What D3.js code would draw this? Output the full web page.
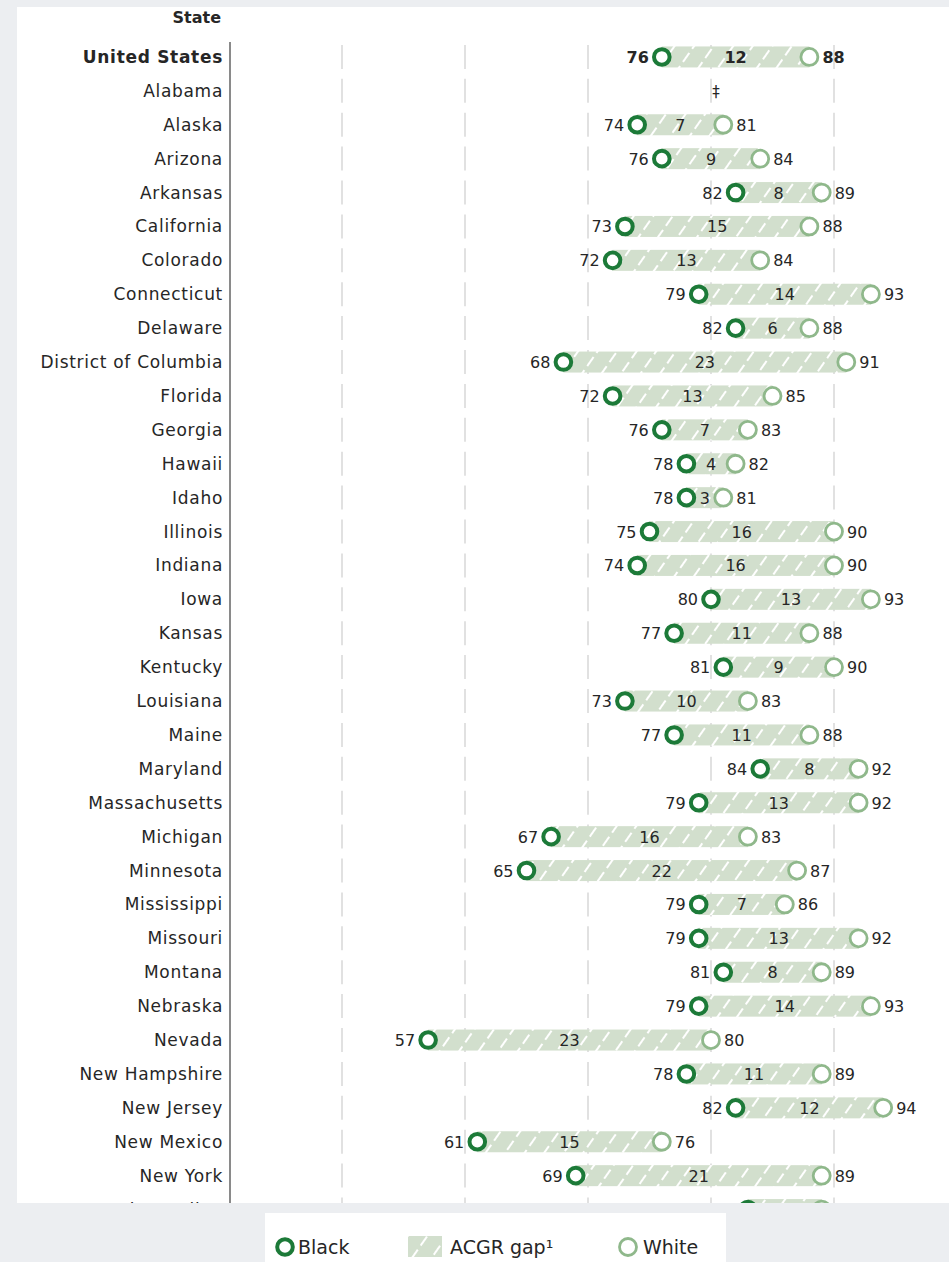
<!DOCTYPE html>
<html>
<head>
<meta charset="utf-8">
<script src="https://cdn.jsdelivr.net/npm/d3@7"></script>
<style>
  body { margin: 0; background: #eceef1; }
  svg { display: block; }
</style>
</head>
<body>
<svg id="chart"></svg>
<script>
// ACGR by race, Black vs White, per state
const states = [
  "United States", "Alabama", "Alaska", "Arizona", "Arkansas", "California",
  "Colorado", "Connecticut", "Delaware", "District of Columbia", "Florida",
  "Georgia", "Hawaii", "Idaho", "Illinois", "Indiana", "Iowa", "Kansas",
  "Kentucky", "Louisiana", "Maine", "Maryland", "Massachusetts", "Michigan",
  "Minnesota", "Mississippi", "Missouri", "Montana", "Nebraska", "Nevada",
  "New Hampshire", "New Jersey", "New Mexico", "New York", "North Carolina"
];
const blackRate = [
  76, null, 74, 76, 82, 73, 72, 79, 82, 68, 72, 76, 78, 78, 75, 74, 80, 77,
  81, 73, 77, 84, 79, 67, 65, 79, 79, 81, 79, 57, 78, 82, 61, 69, 83
];
const whiteRate = [
  88, null, 81, 84, 89, 88, 84, 93, 88, 91, 85, 83, 82, 81, 90, 90, 93, 88,
  90, 83, 88, 92, 92, 83, 87, 86, 92, 89, 93, 80, 89, 94, 76, 89, 89
];
const gapLabel = [
  12, null, 7, 9, 8, 15, 13, 14, 6, 23, 13, 7, 4, 3, 16, 16, 13, 11,
  9, 10, 11, 8, 13, 16, 22, 7, 13, 8, 14, 23, 11, 12, 15, 21, 6
];
const gridTicks = [50, 60, 70, 80, 90];
const legendLabels = ["Black", "ACGR gap\u00B9", "White"];

const width = 949;
const height = 1262;
const font = "'DejaVu Sans', sans-serif";
const darkGreen = "#1c7a38";
const lightGreen = "#8fb88b";
const barFill = "#d2dfcd";
const textColor = "#262626";

const svg = d3.select("#chart")
  .attr("width", width)
  .attr("height", height)
  .attr("viewBox", `0 0 ${width} ${height}`);

const defs = svg.append("defs");

let hatch = defs.append("pattern")
  .attr("id", "hatch")
  .attr("patternUnits", "userSpaceOnUse")
  .attr("width", 16)
  .attr("height", 16)
  .attr("patternTransform", "rotate(35)");
hatch.append("rect")
  .attr("width", 16)
  .attr("height", 16)
  .style("fill", barFill);
hatch.append("line")
  .attr("x1", 3).attr("y1", 0)
  .attr("x2", 3).attr("y2", 16)
  .style("stroke", "#fff")
  .style("stroke-width", 2)
  .style("stroke-dasharray", "11 5");

defs.append("clipPath")
  .attr("id", "panel-clip")
  .append("rect")
  .attr("x", 0).attr("y", 7)
  .attr("width", width).attr("height", 1196);

// white panel
svg.append("rect")
  .attr("x", 17).attr("y", 7)
  .attr("width", width - 17).attr("height", 1196)
  .style("fill", "#fff");

let x = d3.scaleLinear().domain([40, 100]).range([219, 957]);
let y = d3.scaleBand().domain(states).range([40, 40 + states.length * 33.9]);
let cy = (d) => y(d) + y.bandwidth() / 2;

let rows = states.map((s, i) => ({
  state: s,
  black: blackRate[i],
  white: whiteRate[i],
  gap: gapLabel[i],
  total: i === 0
}));

let chart = svg.append("g").attr("clip-path", "url(#panel-clip)");

// gridlines
chart.append("g")
  .selectAll(".grid")
  .data(gridTicks)
  .join("line")
  .attr("class", "grid")
  .attr("x1", (d) => x(d)).attr("x2", (d) => x(d))
  .attr("y1", 40).attr("y2", 1203)
  .style("stroke", "#dadada")
  .style("stroke-width", 1.6)
  .style("stroke-dasharray", "24 9.9")
  .style("stroke-dashoffset", 29);

// axis line
chart.append("line")
  .attr("x1", 230).attr("x2", 230)
  .attr("y1", 42).attr("y2", 1203)
  .style("stroke", "#8a8a8a")
  .style("stroke-width", 2);

// header
svg.append("text")
  .attr("x", 221).attr("y", 23)
  .attr("text-anchor", "end")
  .style("font-family", font)
  .style("font-size", "16px")
  .style("font-weight", "bold")
  .style("fill", textColor)
  .text("State");

// state labels
chart.append("g")
  .selectAll(".state")
  .data(rows)
  .join("text")
  .attr("class", "state")
  .attr("x", 223)
  .attr("y", (d) => cy(d.state) + 6)
  .attr("text-anchor", "end")
  .style("font-family", font)
  .style("font-size", "17px")
  .style("letter-spacing", "0.7px")
  .style("font-weight", (d) => (d.total ? "bold" : "normal"))
  .style("fill", textColor)
  .text((d) => d.state);

let valid = rows.filter((d) => d.black != null);

// gap bars
chart.append("g")
  .selectAll(".gap-bar")
  .data(valid)
  .join("rect")
  .attr("class", "gap-bar")
  .attr("x", (d) => x(d.black))
  .attr("width", (d) => x(d.white) - x(d.black))
  .attr("y", (d) => cy(d.state) - 10.5)
  .attr("height", 21)
  .style("fill", "url(#hatch)");

// gap labels
chart.append("g")
  .selectAll(".gap-label")
  .data(valid)
  .join("text")
  .attr("class", "gap-label")
  .attr("x", (d) => (x(d.black) + x(d.white)) / 2)
  .attr("y", (d) => cy(d.state) + 6)
  .attr("text-anchor", "middle")
  .style("font-family", font)
  .style("font-size", "16px")
  .style("font-weight", (d) => (d.total ? "bold" : "normal"))
  .style("fill", textColor)
  .text((d) => d.gap);

// circles
chart.append("g")
  .selectAll(".white-dot")
  .data(valid)
  .join("circle")
  .attr("class", "white-dot")
  .attr("cx", (d) => x(d.white))
  .attr("cy", (d) => cy(d.state))
  .attr("r", 8.5)
  .style("fill", "#fff")
  .style("stroke", lightGreen)
  .style("stroke-width", 2.8);

chart.append("g")
  .selectAll(".black-dot")
  .data(valid)
  .join("circle")
  .attr("class", "black-dot")
  .attr("cx", (d) => x(d.black))
  .attr("cy", (d) => cy(d.state))
  .attr("r", 7.8)
  .style("fill", "#fff")
  .style("stroke", darkGreen)
  .style("stroke-width", 4);

// value labels
chart.append("g")
  .selectAll(".black-label")
  .data(valid)
  .join("text")
  .attr("class", "black-label")
  .attr("x", (d) => x(d.black) - 13)
  .attr("y", (d) => cy(d.state) + 6)
  .attr("text-anchor", "end")
  .style("font-family", font)
  .style("font-size", "16px")
  .style("font-weight", (d) => (d.total ? "bold" : "normal"))
  .style("fill", textColor)
  .text((d) => d.black);

chart.append("g")
  .selectAll(".white-label")
  .data(valid)
  .join("text")
  .attr("class", "white-label")
  .attr("x", (d) => x(d.white) + 13)
  .attr("y", (d) => cy(d.state) + 6)
  .style("font-family", font)
  .style("font-size", "16px")
  .style("font-weight", (d) => (d.total ? "bold" : "normal"))
  .style("fill", textColor)
  .text((d) => d.white);

// not reported
chart.append("g")
  .selectAll(".na")
  .data(rows.filter((d) => d.black == null))
  .join("text")
  .attr("class", "na")
  .attr("x", x(80) + 5)
  .attr("y", (d) => cy(d.state) + 6)
  .attr("text-anchor", "middle")
  .style("font-family", font)
  .style("font-size", "15px")
  .style("fill", textColor)
  .text("\u2021");

// legend
let legend = svg.append("g").attr("class", "legend");
legend.append("rect")
  .attr("x", 265).attr("y", 1213)
  .attr("width", 461).attr("height", 49)
  .style("fill", "#fff");

legend.append("circle")
  .attr("cx", 285).attr("cy", 1247).attr("r", 7.8)
  .style("fill", "#fff").style("stroke", darkGreen).style("stroke-width", 4);
legend.append("rect")
  .attr("x", 408).attr("y", 1236)
  .attr("width", 34).attr("height", 21)
  .style("fill", "url(#hatch)");
legend.append("circle")
  .attr("cx", 628).attr("cy", 1247).attr("r", 8.5)
  .style("fill", "#fff").style("stroke", lightGreen).style("stroke-width", 2.8);

legend.selectAll(".legend-label")
  .data(legendLabels)
  .join("text")
  .attr("class", "legend-label")
  .attr("x", (d, i) => [298, 450, 643][i])
  .attr("y", 1254)
  .style("font-family", font)
  .style("font-size", "19px")
  .style("fill", textColor)
  .text((d) => d);
</script>
</body>
</html>
